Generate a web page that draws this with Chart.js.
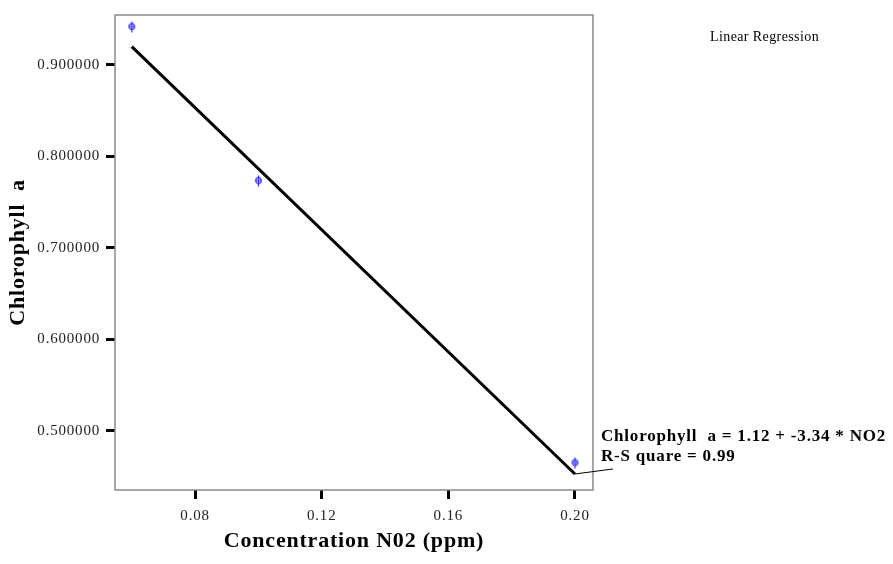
<!DOCTYPE html>
<html>
<head>
<meta charset="utf-8">
<script src="https://cdn.jsdelivr.net/npm/chart.js@4.4.1/dist/chart.umd.min.js"></script>
<style>
    body { margin: 0; background: #fff; }
    #wrap { width: 893px; height: 564px; }
</style>
</head>
<body>
<div id="wrap"><canvas id="myChart" width="893" height="564"></canvas></div>
<script>
// observed values (Chlorophyll a vs NO2)
var no2 = [0.06, 0.10, 0.20];
var chlorophyll = [0.9415, 0.7732, 0.465];

// fitted line, end points
var fitX = [0.06, 0.20];
var fitY = [0.92, 0.453];

var xTicks = [0.08, 0.12, 0.16, 0.20];
var yTicks = [0.5, 0.6, 0.7, 0.8, 0.9];

var eqText = "Chlorophyll  a = 1.12 + -3.34 * NO2";
var rsqText = "R-S quare = 0.99";

// little blue marker: circle with a cross through it
var mark = document.createElement("canvas");
mark.width = 9;
mark.height = 13;
var mc = mark.getContext("2d");
mc.strokeStyle = "#2b2bff";
mc.lineWidth = 1.2;
mc.beginPath();
mc.arc(4.5, 6, 2.8, 0, Math.PI * 2);
mc.moveTo(4.5, 1);
mc.lineTo(4.5, 12);
mc.moveTo(1.2, 6);
mc.lineTo(7.8, 6);
mc.stroke();

var pts = [];
for (var i in no2) {
    pts.push({x: no2[i], y: chlorophyll[i]});
}
var fit = [];
for (var j in fitX) {
    fit.push({x: fitX[j], y: fitY[j]});
}

var extras = {
    id: "extras",
    beforeDraw: function (chart) {
        // the old printout spaces its letters a little
        chart.ctx.letterSpacing = "0.8px";
    },
    beforeDatasetsDraw: function (chart) {
        var c = chart.ctx, a = chart.chartArea;
        c.save();
        c.strokeStyle = "#8a8a8a";
        c.lineWidth = 1.5;
        c.strokeRect(a.left, a.top, a.right - a.left, a.bottom - a.top);
        c.restore();
    },
    afterDatasetsDraw: function (chart) {
        var c = chart.ctx;
        var xs = chart.scales.x, ys = chart.scales.y;
        var n = fitX.length - 1;
        var px = xs.getPixelForValue(fitX[n]);
        var py = ys.getPixelForValue(fitY[n]);
        c.save();
        // callout line to the equation
        c.strokeStyle = "#000";
        c.lineWidth = 1;
        c.beginPath();
        c.moveTo(px, py);
        c.lineTo(px + 38, py - 5);
        c.stroke();
        c.fillStyle = "#000";
        c.textBaseline = "alphabetic";
        c.textAlign = "left";
        c.letterSpacing = "0.8px";
        c.font = "bold 17px 'Liberation Serif', 'Times New Roman', serif";
        c.fillText(eqText, 601, 441);
        c.fillText(rsqText, 601, 461);
        c.letterSpacing = "0.4px";
        c.font = "14px 'Liberation Serif', 'Times New Roman', serif";
        c.fillText("Linear Regression", 710, 41);
        c.restore();
    }
};

var ctx = document.getElementById("myChart");
var myChart = new Chart(ctx, {
    type: "scatter",
    data: {
        datasets: [{
            label: "Fit",
            type: "line",
            data: fit,
            borderColor: "#000",
            borderWidth: 3,
            pointRadius: 0,
            fill: false
        }, {
            label: "Observed",
            data: pts,
            pointStyle: mark,
            pointRadius: 5
        }]
    },
    options: {
        responsive: false,
        animation: false,
        events: [],
        layout: {padding: {left: 0, top: 15, right: 300, bottom: 0}},
        plugins: {legend: {display: false}, tooltip: {enabled: false}},
        scales: {
            x: {
                type: "linear",
                min: 0.0547,
                max: 0.2057,
                afterFit: function (s) { s.height = 74; },
                afterBuildTicks: function (s) {
                    s.ticks = xTicks.map(function (v) { return {value: v}; });
                },
                border: {display: false},
                grid: {drawOnChartArea: false, tickLength: 9, tickWidth: 3, tickColor: "#000"},
                ticks: {
                    autoSkip: false,
                    maxRotation: 0,
                    padding: 8,
                    color: "#222",
                    font: {family: "'Liberation Serif', serif", size: 15},
                    callback: function (v) { return Number(v).toFixed(2); }
                },
                title: {
                    display: true,
                    text: "Concentration N02 (ppm)",
                    color: "#000",
                    padding: {top: 0, bottom: 9},
                    font: {family: "'Liberation Serif', serif", size: 22, weight: "bold"}
                }
            },
            y: {
                type: "linear",
                min: 0.4355,
                max: 0.9546,
                afterFit: function (s) { s.width = 115; },
                afterBuildTicks: function (s) {
                    s.ticks = yTicks.map(function (v) { return {value: v}; });
                },
                border: {display: false},
                grid: {drawOnChartArea: false, tickLength: 9, tickWidth: 3, tickColor: "#000"},
                ticks: {
                    autoSkip: false,
                    padding: 6,
                    color: "#222",
                    font: {family: "'Liberation Serif', serif", size: 15},
                    callback: function (v) { return Number(v).toFixed(6); }
                },
                title: {
                    display: true,
                    text: "Chlorophyll  a",
                    color: "#000",
                    padding: {top: 5, bottom: 0},
                    font: {family: "'Liberation Serif', serif", size: 22, weight: "bold"}
                }
            }
        }
    },
    plugins: [extras]
});
</script>
</body>
</html>
